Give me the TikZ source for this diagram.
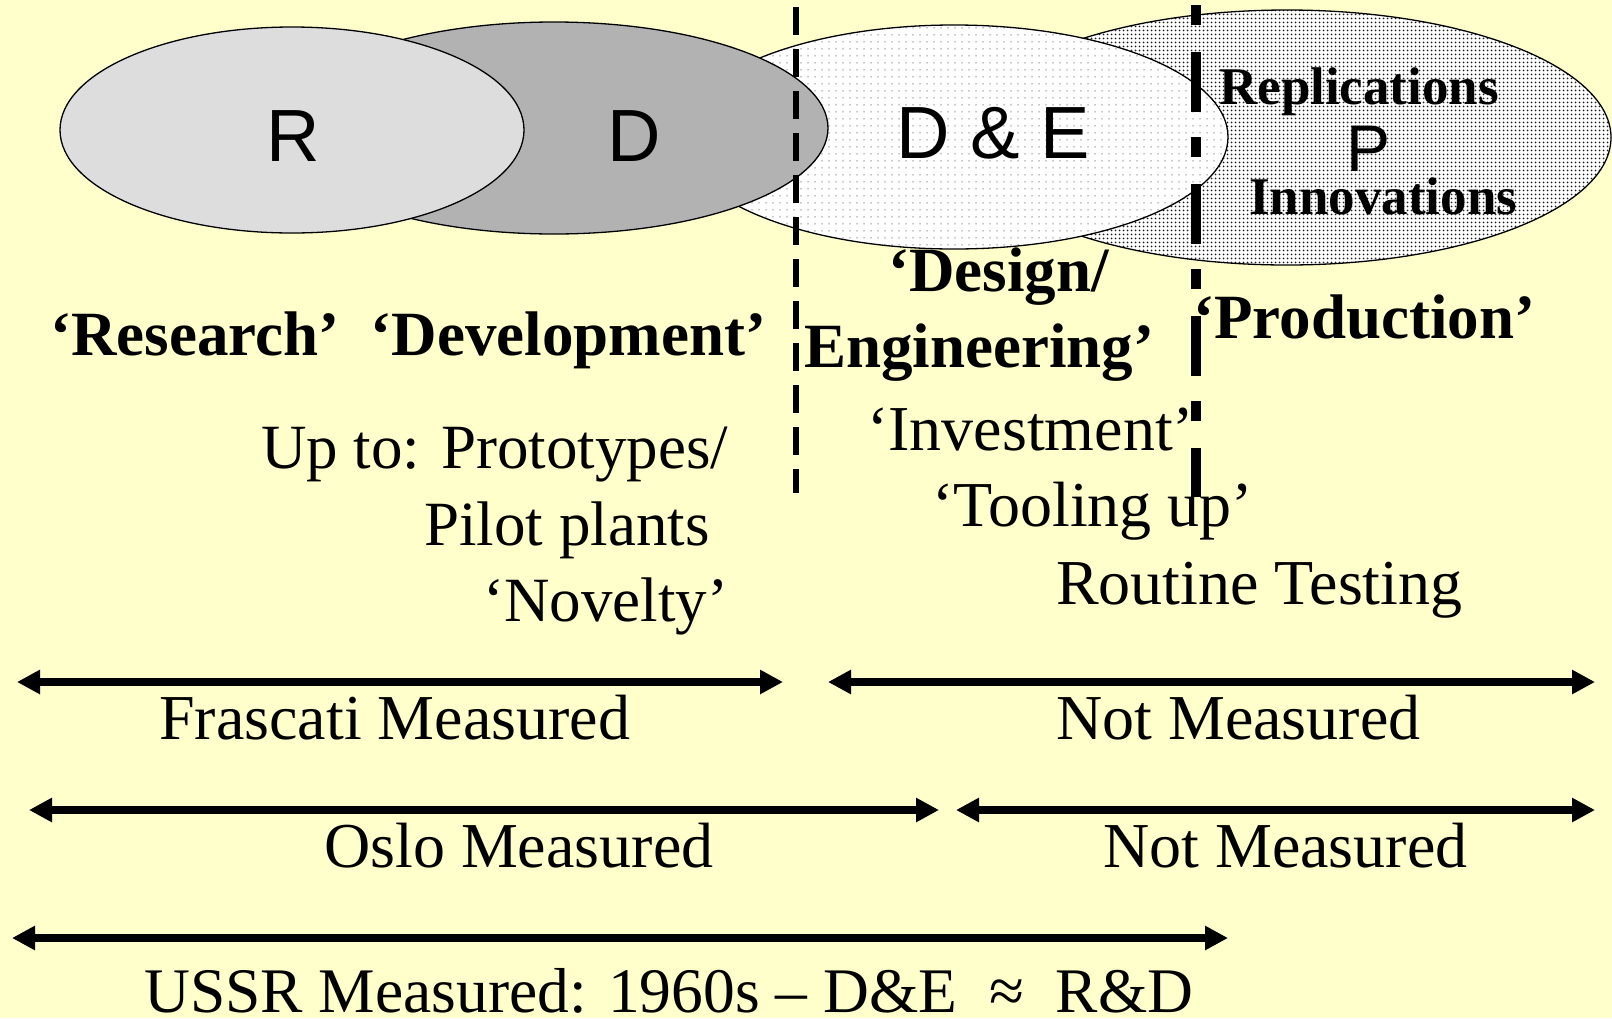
\documentclass[tikz,border=0pt]{standalone}
\usepackage{fontspec}
\setmainfont{Liberation Serif}
\newfontfamily\arialfont{Liberation Sans}
\usetikzlibrary{arrows.meta,shapes.geometric,patterns.meta}
\definecolor{paper}{HTML}{FFFFCC}
\definecolor{lightfill}{HTML}{DDDDDD}
\definecolor{midfill}{HTML}{B2B2B2}
\definecolor{sparsedot}{HTML}{8C8C8C}
\definecolor{densedot}{HTML}{1E1E1E}

\tikzset{
  stage/.style={ellipse, draw=black, line width=1.3pt, inner sep=0pt, outer sep=0pt},
  sparsedots/.style={preaction={fill=white}, pattern={Dots[radius=0.8pt, distance=6.5pt]}, pattern color=sparsedot},
  densedots/.style={preaction={fill=white}, pattern={Dots[radius=1.2pt, distance=4pt]}, pattern color=densedot},
  txt/.style={anchor=base west, inner sep=0pt, font=\fontsize{64}{70}\selectfont},
  txtl/.style={anchor=base west, inner sep=0pt, font=\fontsize{63}{69}\selectfont},
  btxt/.style={anchor=base west, inner sep=0pt, font=\fontsize{63}{70}\selectfont\bfseries},
  sbtxt/.style={anchor=base west, inner sep=0pt, font=\fontsize{53}{58}\selectfont\bfseries},
  lbl/.style={anchor=base, inner sep=0pt, font=\fontsize{74}{80}\selectfont\arialfont},
  span/.style={line width=8pt, {Triangle[length=23pt,width=23pt]}-{Triangle[length=23pt,width=23pt]}},
  divider/.style={line width=6pt, dash pattern=on 28pt off 14pt},
  boundary/.style={line width=10pt, dash pattern=on 20pt off 27pt on 60pt off 25pt}
}

\begin{document}
\begin{tikzpicture}[x=1pt,y=-1pt]
  % canvas
  \fill[paper] (0,0) rectangle (1612,1018);
  \useasboundingbox (0,0) rectangle (1612,1018);

  % stage ellipses, back to front
  \node[stage, densedots, minimum width=648pt, minimum height=255pt] (P) at (1287,137.5) {};
  \node[stage, sparsedots, minimum width=548pt, minimum height=224pt] (DE) at (954,137) {};
  \node[stage, fill=midfill, minimum width=548pt, minimum height=212pt] (D) at (554,128) {};
  \node[stage, fill=lightfill, minimum width=464pt, minimum height=206pt] (R) at (292,130) {};

  % phase dividers
  \coordinate (divAtop) at (796,7);
  \coordinate (divAbot) at (796,493);
  \coordinate (divBtop) at (1196,5);
  \coordinate (divBbot) at (1196,497);
  \draw[divider] (divAtop) -- (divAbot);
  \draw[boundary] (divBtop) -- (divBbot);

  % ellipse labels
  \node[lbl] (Rlbl) at (293,161) {R};
  \node[lbl] (Dlbl) at (634,161) {D};
  \node[lbl] (DElbl) at (993,158) {D \& E};
  \node[lbl, font=\fontsize{66}{72}\selectfont\arialfont] (Plbl) at (1368,171) {P};
  \node[sbtxt] (repl) at (1219,104) {Replications};
  \node[sbtxt] (innov) at (1249,214) {Innovations};

  % phase names
  \node[btxt] (rd) at (50,355) {‘Research’\ \ ‘Development’};
  \node[btxt] (design) at (888,291) {‘Design/};
  \node[btxt] (engin) at (804,367) {Engineering’};
  \node[btxt] (prod) at (1193,338) {‘Production’};

  % phase contents
  \node[txtl] (upto) at (261,468) {Up to: Prototypes/};
  \node[txtl] (pilot) at (424,545) {Pilot plants};
  \node[txtl] (novel) at (483,621) {‘Novelty’};
  \node[txt] (invest) at (867,450) {‘Investment’};
  \node[txt] (tool) at (932,526) {‘Tooling up’};
  \node[txt] (routine) at (1056,604) {Routine Testing};

  % measurement spans
  \coordinate (f1) at (17,682);   \coordinate (f2) at (783,682);
  \coordinate (n1) at (828,682);  \coordinate (n2) at (1595,682);
  \coordinate (o1) at (29,810);   \coordinate (o2) at (939,810);
  \coordinate (m1) at (956,810);  \coordinate (m2) at (1595,810);
  \coordinate (u1) at (12,938);   \coordinate (u2) at (1228,938);
  \draw[span] (f1) -- (f2);
  \draw[span] (n1) -- (n2);
  \draw[span] (o1) -- (o2);
  \draw[span] (m1) -- (m2);
  \draw[span] (u1) -- (u2);

  \node[txt] (frascati) at (159,739) {Frascati Measured};
  \node[txt] (notA) at (1056,739) {Not Measured};
  \node[txt] (oslo) at (324,867) {Oslo Measured};
  \node[txt] (notB) at (1103,867) {Not Measured};
  \node[txt, font=\fontsize{63.5}{70}\selectfont] (ussr) at (144,1012) {USSR Measured: 1960s – D\&E\ \ ≈\ \ R\&D};
\end{tikzpicture}
\end{document}
